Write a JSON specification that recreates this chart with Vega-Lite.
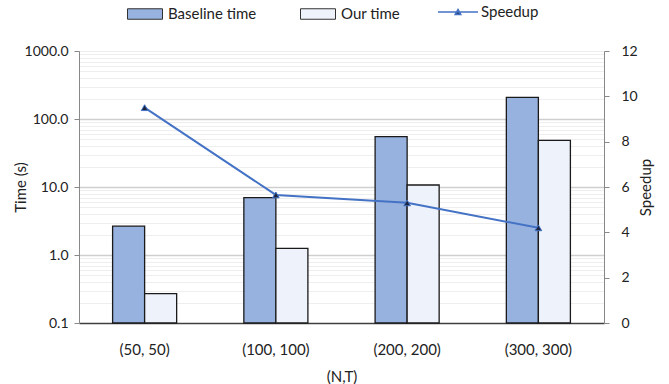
{
  "$schema": "https://vega.github.io/schema/vega-lite/v6.json",
  "width": 525,
  "height": 272,
  "autosize": {"type": "none"},
  "padding": {"left": 79, "top": 51, "right": 65, "bottom": 61},
  "background": "white",
  "config": {
    "view": {"stroke": null},
    "font": "Lato",
    "axis": {"labelFont": "Lato", "titleFont": "Lato", "labelColor": "#222", "titleColor": "#222", "titleFontWeight": "normal"},
    "legend": {"labelFont": "Lato", "labelColor": "#222"}
  },
  "datasets": {
    "times": [
      {"nt": "(50, 50)", "series": "Baseline time", "time": 2.65},
      {"nt": "(50, 50)", "series": "Our time", "time": 0.27},
      {"nt": "(100, 100)", "series": "Baseline time", "time": 7.0},
      {"nt": "(100, 100)", "series": "Our time", "time": 1.25},
      {"nt": "(200, 200)", "series": "Baseline time", "time": 55},
      {"nt": "(200, 200)", "series": "Our time", "time": 10.7},
      {"nt": "(300, 300)", "series": "Baseline time", "time": 208},
      {"nt": "(300, 300)", "series": "Our time", "time": 48.5}
    ],
    "speed": [
      {"nt": "(50, 50)", "speedup": 9.5},
      {"nt": "(100, 100)", "speedup": 5.65},
      {"nt": "(200, 200)", "speedup": 5.3},
      {"nt": "(300, 300)", "speedup": 4.2}
    ]
  },
  "layer": [
    {
      "data": {"name": "times"},
      "mark": {"type": "bar", "stroke": "#1a1a1a", "strokeWidth": 1.3},
      "encoding": {
        "x": {
          "field": "nt", "type": "nominal", "sort": null, "title": "(N,T)",
          "scale": {"paddingInner": 0.512, "paddingOuter": 0.256},
          "axis": {"labelAngle": 0, "labelFontSize": 15, "titleFontSize": 15, "labelPadding": 19, "titlePadding": 12,
                   "domainColor": "#404040", "domainWidth": 1.5, "ticks": false}
        },
        "xOffset": {"field": "series", "sort": ["Baseline time", "Our time"]},
        "y": {
          "field": "time", "type": "quantitative", "title": "Time (s)",
          "scale": {"type": "log", "domain": [0.1, 1000], "nice": false},
          "axis": {
            "values": [0.1,0.2,0.3,0.4,0.5,0.6,0.7,0.8,0.9,1,2,3,4,5,6,7,8,9,10,20,30,40,50,60,70,80,90,100,200,300,400,500,600,700,800,900,1000],
            "labelExpr": "indexof([0.1,1,10,100,1000], datum.value) >= 0 ? format(datum.value, '.1f') : ''",
            "labelFontSize": 14, "titleFontSize": 15, "labelPadding": 6, "titlePadding": -4,
            "domainColor": "#888", "tickSize": 5,
            "tickColor": {"condition": {"test": "indexof([0.1,1,10,100,1000], datum.value) >= 0", "value": "#888"}, "value": "transparent"},
            "grid": true,
            "gridColor": {"condition": {"test": "indexof([1,10,100], datum.value) >= 0", "value": "#cfcfcf"}, "value": "#eeeeee"},
            "gridWidth": {"condition": {"test": "indexof([1,10,100], datum.value) >= 0", "value": 1.5}, "value": 1}
          }
        },
        "y2": {"datum": 0.1},
        "fill": {
          "field": "series", "type": "nominal", "title": null,
          "scale": {"domain": ["Baseline time", "Our time"], "range": ["#98b2df", "#eef2fa"]},
          "legend": {"orient": "none", "legendX": 48, "legendY": -55, "direction": "horizontal",
                     "symbolType": "M-1,-0.3H1V0.3H-1Z", "symbolSize": 1225, "symbolStrokeColor": "#333", "symbolStrokeWidth": 1,
                     "labelFontSize": 15, "labelOffset": 5, "columnPadding": 41}
        }
      }
    },
    {
      "data": {"name": "speed"},
      "mark": {"type": "line", "strokeWidth": 2},
      "encoding": {
        "x": {"field": "nt", "type": "nominal", "sort": null},
        "y": {
          "field": "speedup", "type": "quantitative", "title": "Speedup",
          "scale": {"domain": [0, 12], "nice": false},
          "axis": {"orient": "right", "values": [0,2,4,6,8,10,12], "grid": false, "labelFontSize": 14, "titleFontSize": 15,
                   "domainColor": "#888", "tickColor": "#888", "tickSize": 5, "labelPadding": 12, "titlePadding": 16, "titleAngle": 270}
        },
        "stroke": {
          "datum": "Speedup", "type": "nominal", "title": null,
          "scale": {"domain": ["Speedup"], "range": ["#4472C4"]},
          "legend": {"orient": "none", "legendX": 358, "legendY": -60,
                     "symbolType": "M-1,0H1M-0.14,0.12L0,-0.12L0.14,0.12Z", "symbolSize": 1600, "symbolStrokeWidth": 1.5,
                     "symbolFillColor": "#1F3864", "labelFontSize": 15, "labelOffset": 2}
        }
      }
    },
    {
      "data": {"name": "speed"},
      "mark": {"type": "point", "shape": "triangle-up", "filled": true, "fill": "#1b2540", "stroke": "#4472C4", "strokeWidth": 1, "size": 45, "opacity": 1},
      "encoding": {
        "x": {"field": "nt", "type": "nominal", "sort": null},
        "y": {"field": "speedup", "type": "quantitative", "scale": {"domain": [0, 12], "nice": false}, "axis": null}
      }
    }
  ],
  "resolve": {"scale": {"y": "independent"}}
}
